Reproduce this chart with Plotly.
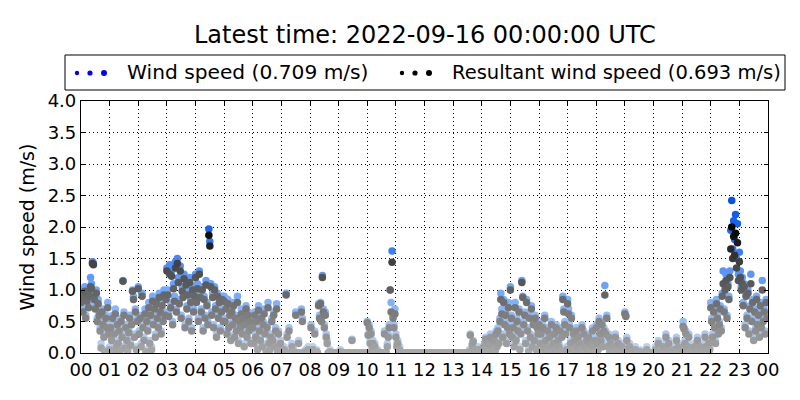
import pandas as pd
import plotly.graph_objects as go

title_text = "Latest time: 2022-09-16 00:00:00 UTC"
legend_labels = ["Wind speed (0.709 m/s)", "Resultant wind speed (0.693 m/s)"]
y_label = "Wind speed (m/s)"

# 2-minute samples, 30 per hour, 2022-09-15 00:00 .. 23:58 UTC
times = pd.date_range("2022-09-15 00:00", periods=720, freq="2min")

wind_speed = [
    # 00
    0.85, 1.00, 0.72, 0.95, 1.05, 0.60, 0.90, 1.02, 0.80, 0.98, 1.20, 1.10, 1.45, 1.43, 0.92, 0.75, 1.00, 0.55, 0.85, 0.65,
    0.40, 0.15, 0.70, 0.50, 0.30, 0.05, 0.60, 0.45, 0.80, 0.35,
    # 01
    0.10, 0.45, 0.25, 0.60, 0.05, 0.35, 0.70, 0.15, 0.50, 0.20, 0.40, 0.08, 0.55, 0.30, 1.15, 0.65, 0.12, 0.45, 0.25, 0.05,
    0.38, 0.60, 0.18, 0.50, 1.00, 0.90, 0.30, 0.70, 0.10, 0.55,
    # 02
    1.05, 0.35, 0.60, 0.15, 0.95, 0.45, 0.25, 0.70, 0.05, 0.55, 0.40, 0.80, 0.20, 0.65, 0.10, 0.90, 0.50, 0.75, 0.30, 0.85,
    0.60, 0.45, 0.95, 0.70, 0.35, 0.80, 0.55, 1.00, 0.65, 0.90,
    # 03
    1.35, 1.00, 0.65, 1.40, 0.80, 1.30, 0.50, 1.10, 0.90, 1.45, 0.70, 1.50, 1.20, 0.85, 1.38, 0.60, 1.05, 0.95, 1.25, 0.45,
    1.15, 0.75, 1.00, 0.55, 1.20, 0.85, 0.40, 1.05, 0.70, 0.95,
    # 04
    1.25, 0.85, 1.10, 0.55, 1.30, 0.95, 0.70, 1.05, 0.40, 0.90, 0.60, 1.15, 0.80, 0.50, 1.97, 1.77, 1.10, 0.65, 0.95, 0.45,
    1.05, 0.75, 0.30, 0.95, 0.60, 0.85, 0.40, 0.70, 0.90, 0.55,
    # 05
    0.90, 0.55, 0.75, 0.35, 0.85, 0.45, 0.65, 0.25, 0.70, 0.50, 0.80, 0.30, 0.60, 0.40, 0.90, 0.20, 0.55, 0.45, 0.70, 0.35,
    0.60, 0.15, 0.50, 0.75, 0.30, 0.65, 0.40, 0.55, 0.20, 0.45,
    # 06
    0.45, 0.20, 0.65, 0.30, 0.55, 0.10, 0.75, 0.40, 0.25, 0.60, 0.15, 0.50, 0.70, 0.35, 0.05, 0.45, 0.80, 0.20, 0.10, 0.30,
    0.55, 0.25, 0.65, 0.15, 0.40, 0.78, 0.05, 0.35, 0.10, 0.20,
    # 07
    0.00, 0.05, 0.00, 0.10, 0.00, 0.95, 0.30, 0.00, 0.40, 0.00, 0.00, 0.15, 0.00, 0.05, 0.00, 0.65, 0.00, 0.00, 0.20, 0.00,
    0.00, 0.70, 0.55, 0.00, 0.00, 0.05, 0.00, 0.00, 0.10, 0.00,
    # 08
    0.00, 0.45, 0.00, 0.10, 0.00, 0.35, 0.00, 0.05, 0.00, 0.78, 0.60, 0.80, 0.55, 1.23, 0.70, 0.45, 0.65, 0.30, 0.20, 0.00,
    0.00, 0.05, 0.00, 0.00, 0.00, 0.00, 0.00, 0.00, 0.00, 0.00,
    # 09
    0.00, 0.00, 0.05, 0.00, 0.00, 0.00, 0.00, 0.00, 0.00, 0.00, 0.00, 0.00, 0.00, 0.00, 0.22, 0.00, 0.00, 0.00, 0.00, 0.00,
    0.00, 0.00, 0.00, 0.00, 0.00, 0.00, 0.00, 0.00, 0.00, 0.00,
    # 10
    0.50, 0.30, 0.45, 0.20, 0.35, 0.10, 0.20, 0.00, 0.15, 0.00, 0.00, 0.05, 0.00, 0.00, 0.00, 0.00, 0.00, 0.00, 0.35, 0.00,
    0.00, 0.15, 0.30, 0.45, 1.00, 0.80, 1.62, 0.60, 0.45, 0.70,
    # 11
    0.30, 0.15, 0.20, 0.05, 0.10, 0.00, 0.00, 0.00, 0.00, 0.00, 0.00, 0.00, 0.00, 0.00, 0.00, 0.00, 0.00, 0.00, 0.00, 0.00,
    0.00, 0.00, 0.00, 0.00, 0.00, 0.00, 0.00, 0.00, 0.00, 0.00,
    # 12
    0.00, 0.00, 0.00, 0.00, 0.00, 0.00, 0.00, 0.00, 0.00, 0.00, 0.00, 0.00, 0.00, 0.00, 0.00, 0.00, 0.00, 0.00, 0.00, 0.00,
    0.00, 0.00, 0.00, 0.00, 0.00, 0.00, 0.00, 0.00, 0.00, 0.00,
    # 13
    0.00, 0.00, 0.00, 0.00, 0.00, 0.00, 0.00, 0.00, 0.00, 0.00, 0.00, 0.00, 0.00, 0.00, 0.00, 0.00, 0.00, 0.05, 0.30, 0.00,
    0.15, 0.20, 0.00, 0.10, 0.05, 0.00, 0.10, 0.00, 0.05, 0.00,
    # 14
    0.05, 0.10, 0.00, 0.15, 0.25, 0.10, 0.00, 0.20, 0.05, 0.30, 0.15, 0.00, 0.10, 0.25, 0.05, 0.35, 0.15, 0.40, 0.20, 0.55,
    0.95, 0.70, 0.30, 0.85, 0.50, 0.65, 0.20, 0.45, 0.80, 0.35,
    # 15
    1.05, 0.60, 0.30, 0.45, 0.15, 0.80, 0.25, 0.55, 0.40, 0.70, 0.10, 0.35, 1.15, 0.90, 0.50, 0.65, 0.20, 0.85, 0.40, 0.05,
    0.60, 0.30, 0.75, 0.15, 0.50, 0.25, 0.60, 0.10, 0.45, 0.35,
    # 16
    0.50, 0.20, 0.35, 0.05, 0.45, 0.15, 0.60, 0.25, 0.10, 0.40, 0.00, 0.30, 0.15, 0.50, 0.05, 0.20, 0.35, 0.10, 0.45, 0.00,
    0.25, 0.15, 0.40, 0.05, 0.30, 0.90, 0.70, 0.50, 0.35, 0.10,
    # 17
    0.85, 0.70, 0.45, 0.20, 0.60, 0.10, 0.35, 0.25, 0.05, 0.40, 0.15, 0.30, 0.00, 0.20, 0.10, 0.45, 0.05, 0.35, 0.15, 0.00,
    0.25, 0.10, 0.30, 0.00, 0.20, 0.05, 0.40, 0.15, 0.00, 0.25,
    # 18
    0.45, 0.20, 0.10, 0.55, 0.35, 0.25, 0.50, 0.15, 0.40, 1.07, 0.35, 0.60, 0.15, 0.30, 0.05, 0.20, 0.10, 0.00, 0.15, 0.05,
    0.30, 0.00, 0.10, 0.20, 0.00, 0.05, 0.00, 0.15, 0.00, 0.10,
    # 19
    0.65, 0.60, 0.25, 0.10, 0.00, 0.15, 0.00, 0.05, 0.00, 0.00, 0.00, 0.10, 0.00, 0.00, 0.00, 0.00, 0.05, 0.00, 0.00, 0.00,
    0.00, 0.00, 0.00, 0.10, 0.00, 0.00, 0.00, 0.00, 0.00, 0.00,
    # 20
    0.00, 0.00, 0.10, 0.00, 0.00, 0.20, 0.00, 0.05, 0.00, 0.00, 0.15, 0.00, 0.00, 0.30, 0.10, 0.00, 0.20, 0.00, 0.05, 0.00,
    0.00, 0.10, 0.00, 0.00, 0.25, 0.00, 0.15, 0.00, 0.05, 0.00,
    # 21
    0.10, 0.50, 0.40, 0.20, 0.35, 0.05, 0.15, 0.30, 0.00, 0.10, 0.00, 0.05, 0.00, 0.15, 0.00, 0.10, 0.25, 0.05, 0.00, 0.15,
    0.00, 0.05, 0.10, 0.00, 0.30, 0.15, 0.05, 0.00, 0.20, 0.10,
    # 22
    0.80, 0.55, 0.30, 0.70, 0.45, 0.20, 0.85, 0.60, 0.35, 0.50, 0.75, 0.40, 0.95, 1.30, 0.70, 1.05, 1.25, 0.60, 1.10, 0.90,
    1.30, 1.95, 2.42, 1.65, 2.10, 1.80, 2.20, 1.50, 2.05, 1.25,
    # 23
    1.60, 1.30, 1.05, 1.20, 0.80, 1.10, 0.45, 0.95, 0.60, 1.00, 0.35, 0.75, 1.25, 0.55, 0.85, 0.25, 0.70, 0.40, 0.90, 0.50,
    0.65, 0.30, 0.80, 0.45, 1.15, 0.55, 0.70, 0.35, 0.85, 0.60,
]

resultant = [
    # 00
    0.80, 0.92, 0.65, 0.88, 0.98, 0.55, 0.82, 0.95, 0.72, 0.90, 1.05, 1.02, 1.42, 1.40, 0.85, 0.70, 0.95, 0.50, 0.78, 0.60,
    0.35, 0.08, 0.65, 0.45, 0.25, 0.02, 0.55, 0.40, 0.72, 0.30,
    # 01
    0.05, 0.40, 0.20, 0.55, 0.02, 0.30, 0.62, 0.10, 0.45, 0.15, 0.35, 0.04, 0.50, 0.25, 1.14, 0.60, 0.08, 0.40, 0.20, 0.02,
    0.32, 0.55, 0.12, 0.45, 0.98, 0.85, 0.25, 0.65, 0.05, 0.50,
    # 02
    1.02, 0.30, 0.55, 0.10, 0.90, 0.40, 0.20, 0.62, 0.02, 0.50, 0.35, 0.72, 0.15, 0.60, 0.05, 0.82, 0.45, 0.70, 0.25, 0.78,
    0.55, 0.40, 0.88, 0.65, 0.30, 0.75, 0.50, 0.92, 0.60, 0.85,
    # 03
    1.30, 0.92, 0.58, 1.25, 0.72, 1.22, 0.45, 1.02, 0.82, 1.35, 0.65, 1.42, 1.12, 0.78, 1.30, 0.55, 0.98, 0.88, 1.18, 0.40,
    1.08, 0.70, 0.92, 0.50, 1.12, 0.80, 0.35, 1.00, 0.65, 0.90,
    # 04
    1.20, 0.80, 1.02, 0.50, 1.25, 0.88, 0.65, 1.00, 0.35, 0.85, 0.55, 1.08, 0.75, 0.45, 1.87, 1.70, 1.05, 0.60, 0.88, 0.40,
    1.00, 0.70, 0.25, 0.90, 0.55, 0.80, 0.35, 0.65, 0.85, 0.50,
    # 05
    0.82, 0.50, 0.70, 0.30, 0.78, 0.40, 0.60, 0.20, 0.65, 0.45, 0.75, 0.25, 0.55, 0.35, 0.80, 0.15, 0.50, 0.40, 0.62, 0.30,
    0.55, 0.10, 0.45, 0.70, 0.25, 0.60, 0.35, 0.50, 0.15, 0.40,
    # 06
    0.40, 0.15, 0.60, 0.25, 0.50, 0.05, 0.68, 0.35, 0.20, 0.55, 0.10, 0.45, 0.62, 0.30, 0.02, 0.40, 0.72, 0.15, 0.05, 0.25,
    0.50, 0.20, 0.60, 0.10, 0.35, 0.70, 0.02, 0.30, 0.05, 0.15,
    # 07
    0.00, 0.02, 0.00, 0.05, 0.00, 0.92, 0.25, 0.00, 0.35, 0.00, 0.00, 0.10, 0.00, 0.02, 0.00, 0.60, 0.00, 0.00, 0.15, 0.00,
    0.00, 0.65, 0.50, 0.00, 0.00, 0.02, 0.00, 0.00, 0.05, 0.00,
    # 08
    0.00, 0.40, 0.00, 0.05, 0.00, 0.30, 0.00, 0.02, 0.00, 0.75, 0.55, 0.78, 0.50, 1.20, 0.65, 0.40, 0.60, 0.25, 0.15, 0.00,
    0.00, 0.02, 0.00, 0.00, 0.00, 0.00, 0.00, 0.00, 0.00, 0.00,
    # 09
    0.00, 0.00, 0.02, 0.00, 0.00, 0.00, 0.00, 0.00, 0.00, 0.00, 0.00, 0.00, 0.00, 0.00, 0.20, 0.00, 0.00, 0.00, 0.00, 0.00,
    0.00, 0.00, 0.00, 0.00, 0.00, 0.00, 0.00, 0.00, 0.00, 0.00,
    # 10
    0.48, 0.28, 0.40, 0.15, 0.30, 0.05, 0.15, 0.00, 0.10, 0.00, 0.00, 0.02, 0.00, 0.00, 0.00, 0.00, 0.00, 0.00, 0.30, 0.00,
    0.00, 0.10, 0.25, 0.40, 1.00, 0.65, 1.44, 0.55, 0.40, 0.62,
    # 11
    0.25, 0.10, 0.15, 0.02, 0.05, 0.00, 0.00, 0.00, 0.00, 0.00, 0.00, 0.00, 0.00, 0.00, 0.00, 0.00, 0.00, 0.00, 0.00, 0.00,
    0.00, 0.00, 0.00, 0.00, 0.00, 0.00, 0.00, 0.00, 0.00, 0.00,
    # 12
    0.00, 0.00, 0.00, 0.00, 0.00, 0.00, 0.00, 0.00, 0.00, 0.00, 0.00, 0.00, 0.00, 0.00, 0.00, 0.00, 0.00, 0.00, 0.00, 0.00,
    0.00, 0.00, 0.00, 0.00, 0.00, 0.00, 0.00, 0.00, 0.00, 0.00,
    # 13
    0.00, 0.00, 0.00, 0.00, 0.00, 0.00, 0.00, 0.00, 0.00, 0.00, 0.00, 0.00, 0.00, 0.00, 0.00, 0.00, 0.00, 0.02, 0.28, 0.00,
    0.12, 0.18, 0.00, 0.05, 0.02, 0.00, 0.05, 0.00, 0.02, 0.00,
    # 14
    0.02, 0.08, 0.00, 0.12, 0.22, 0.08, 0.00, 0.15, 0.02, 0.25, 0.12, 0.00, 0.05, 0.20, 0.02, 0.30, 0.10, 0.35, 0.15, 0.50,
    0.85, 0.62, 0.25, 0.80, 0.45, 0.60, 0.15, 0.40, 0.72, 0.30,
    # 15
    1.00, 0.55, 0.25, 0.40, 0.10, 0.72, 0.20, 0.50, 0.35, 0.65, 0.05, 0.30, 1.12, 0.88, 0.45, 0.60, 0.15, 0.80, 0.35, 0.02,
    0.55, 0.25, 0.70, 0.10, 0.45, 0.20, 0.55, 0.05, 0.40, 0.30,
    # 16
    0.45, 0.15, 0.30, 0.02, 0.40, 0.10, 0.55, 0.20, 0.05, 0.35, 0.00, 0.25, 0.10, 0.45, 0.02, 0.15, 0.30, 0.05, 0.40, 0.00,
    0.20, 0.10, 0.35, 0.02, 0.25, 0.85, 0.65, 0.45, 0.30, 0.05,
    # 17
    0.78, 0.62, 0.40, 0.15, 0.55, 0.05, 0.30, 0.20, 0.02, 0.35, 0.10, 0.25, 0.00, 0.15, 0.05, 0.40, 0.02, 0.30, 0.10, 0.00,
    0.20, 0.05, 0.25, 0.00, 0.15, 0.02, 0.35, 0.10, 0.00, 0.20,
    # 18
    0.40, 0.15, 0.05, 0.50, 0.30, 0.20, 0.45, 0.10, 0.35, 0.92, 0.30, 0.55, 0.10, 0.25, 0.02, 0.15, 0.05, 0.00, 0.10, 0.02,
    0.25, 0.00, 0.05, 0.15, 0.00, 0.02, 0.00, 0.10, 0.00, 0.05,
    # 19
    0.62, 0.58, 0.20, 0.05, 0.00, 0.10, 0.00, 0.02, 0.00, 0.00, 0.00, 0.05, 0.00, 0.00, 0.00, 0.00, 0.02, 0.00, 0.00, 0.00,
    0.00, 0.00, 0.00, 0.05, 0.00, 0.00, 0.00, 0.00, 0.00, 0.00,
    # 20
    0.00, 0.00, 0.05, 0.00, 0.00, 0.15, 0.00, 0.02, 0.00, 0.00, 0.10, 0.00, 0.00, 0.25, 0.05, 0.00, 0.15, 0.00, 0.02, 0.00,
    0.00, 0.05, 0.00, 0.00, 0.20, 0.00, 0.10, 0.00, 0.02, 0.00,
    # 21
    0.05, 0.42, 0.38, 0.15, 0.30, 0.02, 0.10, 0.25, 0.00, 0.05, 0.00, 0.02, 0.00, 0.10, 0.00, 0.05, 0.20, 0.02, 0.00, 0.10,
    0.00, 0.02, 0.05, 0.00, 0.25, 0.10, 0.02, 0.00, 0.15, 0.05,
    # 22
    0.72, 0.50, 0.25, 0.65, 0.40, 0.15, 0.78, 0.55, 0.30, 0.45, 0.70, 0.35, 0.90, 1.10, 0.65, 1.00, 1.15, 0.55, 1.05, 0.85,
    1.20, 1.65, 2.00, 1.50, 1.85, 1.55, 1.90, 1.35, 1.75, 1.15,
    # 23
    1.45, 1.20, 1.00, 1.10, 0.75, 1.05, 0.40, 0.90, 0.55, 0.95, 0.30, 0.70, 1.10, 0.50, 0.80, 0.20, 0.65, 0.35, 0.85, 0.45,
    0.60, 0.25, 0.75, 0.40, 1.00, 0.50, 0.65, 0.30, 0.80, 0.55,
]

W, H = 800, 400
L, R, T, B = 81, 768, 101, 353  # plot area in pixels


def px(x):
    return (x - L) / (R - L)


def py(y):
    return (B - y) / (B - T)


FONT = "DejaVu Sans"

fig = go.Figure()
fig.add_trace(go.Scatter(
    x=times, y=wind_speed, mode="markers", name=legend_labels[0], showlegend=False,
    marker=dict(size=7.5, color=wind_speed, cmin=0, cmax=2.5,
                colorscale=[[0, "#c0d4f4"], [0.4, "#70a8ff"], [0.8, "#1a64f0"], [1, "#0050e0"]],
                line=dict(width=0)),
))
fig.add_trace(go.Scatter(
    x=times, y=resultant, mode="markers", name=legend_labels[1], showlegend=False,
    marker=dict(size=7.5, color=resultant, cmin=0, cmax=2.0,
                colorscale=[[0, "#a8a8a8"], [0.5, "#606060"], [0.7, "#454545"], [0.85, "#222222"], [1, "#000000"]],
                line=dict(width=0)),
))

shapes = [dict(type="rect", xref="paper", yref="paper", x0=px(65), x1=px(785), y0=py(90), y1=py(55),
               line=dict(color="black", width=1), fillcolor="white")]
for cx, r in [(77, 2.2), (90, 2.6), (104, 3.0)]:
    shapes.append(dict(type="circle", xref="paper", yref="paper", x0=px(cx - r), x1=px(cx + r),
                       y0=py(73 + r), y1=py(73 - r), fillcolor="#0000ff", line=dict(width=0)))
for cx, r in [(402, 2.2), (415, 2.6), (429, 3.0)]:
    shapes.append(dict(type="circle", xref="paper", yref="paper", x0=px(cx - r), x1=px(cx + r),
                       y0=py(73 + r), y1=py(73 - r), fillcolor="#000000", line=dict(width=0)))

annotations = [
    dict(text=legend_labels[0], xref="paper", yref="paper", x=px(125), y=py(72), xanchor="left",
         yanchor="middle", showarrow=False, font=dict(family=FONT, size=20.2, color="black")),
    dict(text=legend_labels[1], xref="paper", yref="paper", x=px(450), y=py(72), xanchor="left",
         yanchor="middle", showarrow=False, font=dict(family=FONT, size=19.5, color="black")),
    dict(text=title_text, xref="paper", yref="paper", x=px(425), y=py(35), xanchor="center",
         yanchor="middle", showarrow=False, font=dict(family=FONT, size=24, color="black")),
]

fig.update_layout(
    width=W, height=H,
    margin=dict(l=L, r=W - R, t=T, b=H - B, pad=0),
    paper_bgcolor="white", plot_bgcolor="white",
    font=dict(family=FONT, size=18, color="black"),
    showlegend=False,
    shapes=shapes, annotations=annotations,
    xaxis=dict(
        type="date", range=["2022-09-15 00:00", "2022-09-16 00:00"],
        dtick=3600000, tick0="2022-09-15 00:00", tickformat="%H",
        showline=True, linecolor="black", linewidth=1.2, mirror="allticks",
        ticks="inside", ticklen=4, tickcolor="black",
        showgrid=True, gridcolor="#000000", gridwidth=1, griddash="1px,3px",
        zeroline=False, tickfont=dict(size=18), automargin=False,
    ),
    yaxis=dict(
        range=[0, 4], dtick=0.5, tick0=0, tickformat=".1f",
        showline=True, linecolor="black", linewidth=1.2, mirror="allticks",
        ticks="inside", ticklen=4, tickcolor="black",
        showgrid=True, gridcolor="#000000", gridwidth=1, griddash="1px,3px",
        zeroline=False, tickfont=dict(size=18), automargin=False,
        title=dict(text=y_label, font=dict(size=19), standoff=8),
    ),
)

fig.write_html("out.html", config={"displayModeBar": False},
               post_script="document.body.style.margin='0';document.body.style.overflow='hidden';")
